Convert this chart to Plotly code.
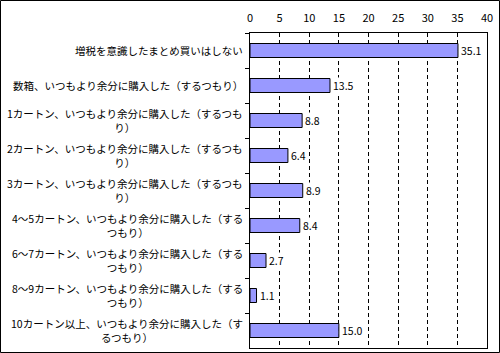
import plotly.graph_objects as go

labels = [
    "増税を意識したまとめ買いはしない",
    "数箱、いつもより余分に購入した（するつもり）",
    "1カートン、いつもより余分に購入した（するつも<br>り）",
    "2カートン、いつもより余分に購入した（するつも<br>り）",
    "3カートン、いつもより余分に購入した（するつも<br>り）",
    "4～5カートン、いつもより余分に購入した（する<br>つもり）",
    "6～7カートン、いつもより余分に購入した（する<br>つもり）",
    "8～9カートン、いつもより余分に購入した（する<br>つもり）",
    "10カートン以上、いつもより余分に購入した（す<br>るつもり）",
]
ids = [f"c{i}" for i in range(len(labels))]
values = [35.1, 13.5, 8.8, 6.4, 8.9, 8.4, 2.7, 1.1, 15.0]
x_ticks = [0, 5, 10, 15, 20, 25, 30, 35, 40]

font_jp = "Noto Sans CJK JP"

fig = go.Figure()
fig.add_trace(go.Bar(
    x=values, y=ids, orientation="h",
    marker=dict(color="#9999FF", line=dict(color="black", width=1)),
    hoverinfo="skip",
))

W, H = 500, 353
L, R, T, B = 250, 13, 33, 5
pw = W - L - R
ph = H - T - B

annotations = []
for cid, lab in zip(ids, labels):
    annotations.append(dict(
        x=0, xref="paper", y=cid, yref="y",
        text=lab, showarrow=False, xanchor="right", yanchor="middle",
        align="center", xshift=-5,
        font=dict(family=font_jp, size=10.5, color="black"),
    ))
for cid, v in zip(ids, values):
    annotations.append(dict(
        x=v, xref="x", y=cid, yref="y",
        text=f"{v:.1f}", showarrow=False, xanchor="left", yanchor="middle",
        xshift=2, bgcolor="white", borderpad=0,
        font=dict(family=font_jp, size=10.5, color="black"),
    ))

fig.update_layout(
    width=W, height=H,
    margin=dict(l=L, r=R, t=T, b=B),
    paper_bgcolor="white", plot_bgcolor="white",
    showlegend=False,
    bargap=0.6,
    annotations=annotations,
    shapes=[dict(
        type="rect", xref="paper", yref="paper",
        x0=(0.5 - L) / pw, x1=(W - 0.5 - L) / pw,
        y0=-(B - 0.5) / ph, y1=1 + (T - 0.5) / ph,
        line=dict(color="black", width=1), fillcolor="rgba(0,0,0,0)",
        layer="below",
    )],
    xaxis=dict(
        side="top", range=[0, 40], tickvals=x_ticks,
        showgrid=True, gridcolor="black", gridwidth=1, griddash="4px,3px",
        showline=True, linecolor="black", linewidth=1, mirror=True,
        ticks="", zeroline=False,
        tickfont=dict(family=font_jp, size=11, color="black"),
        ticklabelstandoff=6,
        fixedrange=True,
    ),
    yaxis=dict(
        categoryorder="array", categoryarray=ids, autorange="reversed",
        showticklabels=False, showgrid=False,
        showline=True, linecolor="black", linewidth=1, mirror=True,
        ticks="outside", ticklen=4, tickcolor="black", tickson="boundaries",
        fixedrange=True,
    ),
)

fig.write_html("out.html")
